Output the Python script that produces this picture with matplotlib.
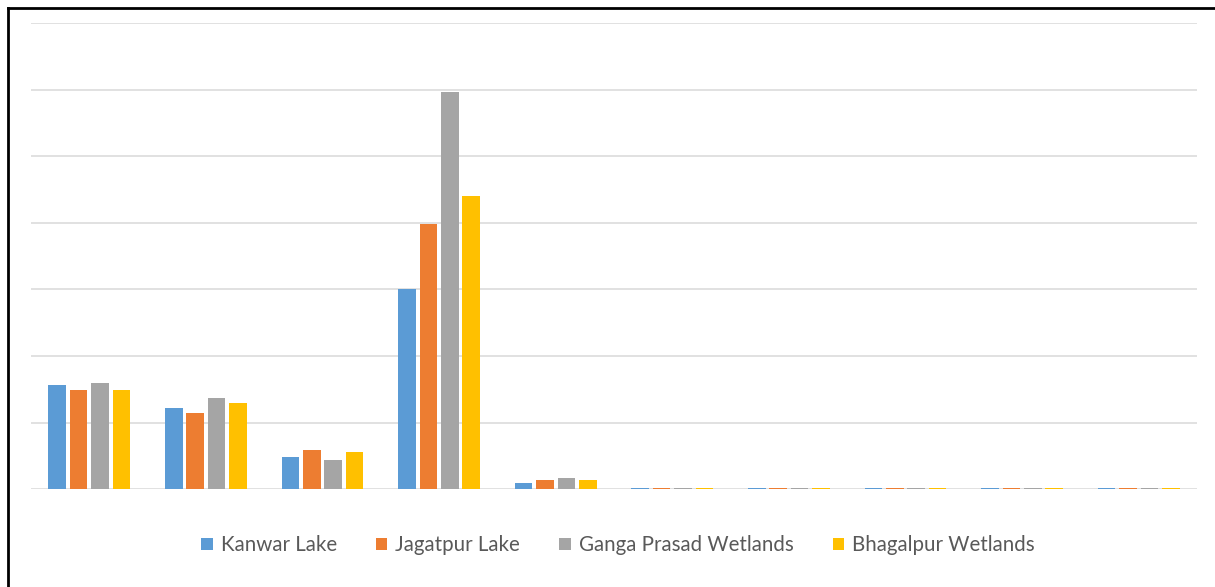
import numpy as np
import matplotlib
matplotlib.use("Agg")
import matplotlib.pyplot as plt
from matplotlib.patches import Patch
from matplotlib.lines import Line2D

plt.rcParams["font.family"] = ["Lato", "DejaVu Sans"]

# Ten sampling categories (unlabelled on the axis)
categories = list(range(1, 11))

series_names = ["Kanwar Lake", "Jagatpur Lake", "Ganga Prasad Wetlands", "Bhagalpur Wetlands"]
kanwar = [1.56, 1.22, 0.48, 3.00, 0.09, 0.02, 0.02, 0.02, 0.02, 0.02]
jagatpur = [1.49, 1.15, 0.59, 3.98, 0.14, 0.02, 0.02, 0.02, 0.02, 0.02]
ganga = [1.59, 1.37, 0.44, 5.97, 0.165, 0.02, 0.02, 0.02, 0.02, 0.02]
bhagalpur = [1.49, 1.30, 0.56, 4.40, 0.14, 0.02, 0.02, 0.02, 0.02, 0.02]

colors = ["#5b9bd5", "#ed7d31", "#a5a5a5", "#ffc000"]

fig = plt.figure(figsize=(12.15, 5.87), dpi=100)
ax = fig.add_axes([31 / 1215, 1 - 489.3 / 587, 1166 / 1215, 466.3 / 587])

x = np.arange(len(categories))
slot = 0.1835
width = 0.15
for i, (vals, col) in enumerate(zip([kanwar, jagatpur, ganga, bhagalpur], colors)):
    ax.bar(x + (i - 1.5) * slot, vals, width=width, color=col, zorder=3)

ax.set_xlim(-0.5, len(categories) - 0.5)
ax.set_ylim(0, 7)
ax.set_yticks(np.arange(0, 8, 1))
ax.yaxis.grid(True, color="#dcdcdc", linewidth=1.2, zorder=0)
ax.tick_params(left=False, bottom=False, labelleft=False, labelbottom=False)
for s in ax.spines.values():
    s.set_visible(False)

handles = [Patch(facecolor=c, edgecolor="none") for c in colors]
fig.legend(handles, series_names, loc="center", ncol=4,
           bbox_to_anchor=(618 / 1215, 1 - 545 / 587), frameon=False,
           fontsize=14.8, handlelength=0.55, handleheight=0.55, handletextpad=0.4,
           columnspacing=1.9, labelcolor="#595959")

# frame along the top and left edges
fig.add_artist(Line2D([8 / 1215, 8 / 1215], [0, 1 - 8 / 587], transform=fig.transFigure,
                      color="black", linewidth=2, solid_capstyle="projecting"))
fig.add_artist(Line2D([8 / 1215, 1], [1 - 8 / 587, 1 - 8 / 587], transform=fig.transFigure,
                      color="black", linewidth=2, solid_capstyle="projecting"))

fig.savefig("out.png", dpi=100, facecolor="white")
